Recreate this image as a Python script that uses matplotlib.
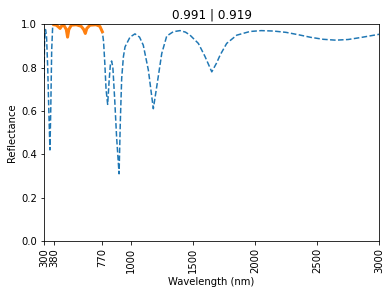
import matplotlib
matplotlib.use("Agg")
import matplotlib.pyplot as plt

# Full-spectrum reflectance (dashed)
wl_full = [300, 305, 312, 320, 330, 340, 348, 355, 362, 370, 380, 400, 420, 430, 440, 460, 480,
           490, 500, 520, 560, 600, 620, 633, 645, 670, 720, 750, 770, 780, 790, 800, 813, 825,
           835, 845, 855, 870, 885, 905, 915, 926, 940, 953, 993, 1033, 1070, 1100, 1141, 1181,
           1208, 1249, 1289, 1342, 1396, 1440, 1477, 1544, 1598, 1652, 1690, 1719, 1772, 1853,
           1960, 2050, 2150, 2250, 2350, 2450, 2550, 2650, 2750, 2850, 2950, 3000]
r_full = [0.75, 0.93, 0.975, 0.95, 0.80, 0.58, 0.42, 0.62, 0.88, 0.99, 0.997, 0.995, 0.985, 0.98,
          0.99, 0.995, 0.975, 0.94, 0.975, 0.995, 0.997, 0.99, 0.975, 0.957, 0.98, 0.995, 0.997,
          0.99, 0.965, 0.92, 0.82, 0.70, 0.63, 0.74, 0.815, 0.83, 0.80, 0.65, 0.48, 0.31, 0.55,
          0.75, 0.85, 0.895, 0.94, 0.955, 0.94, 0.903, 0.788, 0.61, 0.71, 0.865, 0.945, 0.965,
          0.97, 0.963, 0.949, 0.911, 0.85, 0.78, 0.82, 0.857, 0.911, 0.949, 0.966, 0.97, 0.968,
          0.962, 0.951, 0.939, 0.93, 0.926, 0.929, 0.938, 0.948, 0.953]

# Visible-band reflectance (solid)
wl_vis = [380, 400, 420, 430, 440, 460, 480, 490, 500, 520, 560, 600, 620, 633, 645, 670, 720, 750, 770]
r_vis = [0.997, 0.995, 0.985, 0.98, 0.99, 0.995, 0.975, 0.94, 0.975, 0.995, 0.997, 0.99, 0.975,
         0.957, 0.98, 0.995, 0.997, 0.99, 0.965]

title_text = "0.991 | 0.919"
xticks = [300, 380, 770, 1000, 1500, 2000, 2500, 3000]
yticks = [0.0, 0.2, 0.4, 0.6, 0.8, 1.0]

dpi = 72
fig = plt.figure(figsize=(391 / dpi, 294 / dpi), dpi=dpi)
ax = fig.add_axes([0.1125, 0.180, 0.857, 0.738])
ax.plot(wl_full, r_full, linestyle="--", color="#1f77b4", linewidth=1.5)
ax.plot(wl_vis, r_vis, linestyle="-", color="#ff7f0e", linewidth=3)
ax.set_xlim(300, 3000)
ax.set_ylim(0, 1.0)
ax.set_xticks(xticks)
ax.set_xticklabels([str(t) for t in xticks], rotation=90)
ax.set_yticks(yticks)
ax.set_xlabel("Wavelength (nm)")
ax.set_ylabel("Reflectance")
ax.set_title(title_text)
fig.savefig("out.png", dpi=dpi)
